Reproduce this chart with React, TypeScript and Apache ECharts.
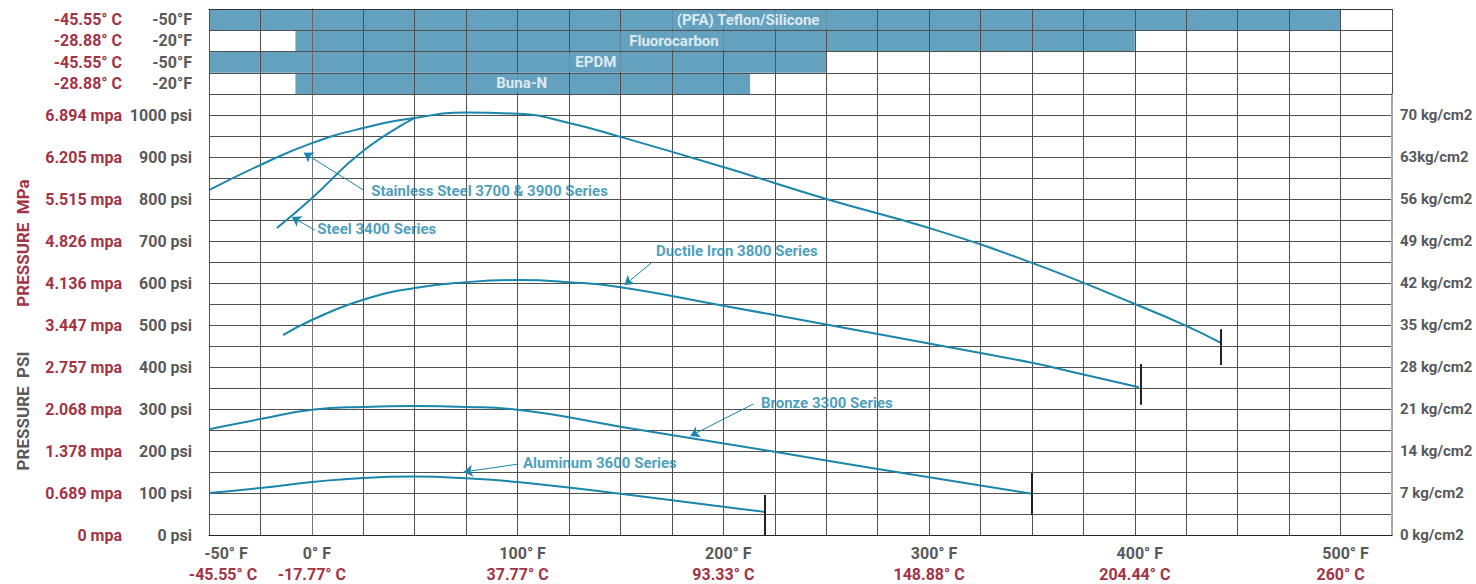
import React, { useEffect, useRef } from 'react';
import * as echarts from 'echarts';

const FONT = "Roboto, 'Liberation Sans Narrow', sans-serif";
const RED = '#a13446';
const GRAY = '#58595b';
const TEAL = '#1a86ab';
const BAND = '#64a1bf';
const GRIDC = '#505050';

// X axis (temperature) tick labels
const xTickF = [-50, 0, 100, 200, 300, 400, 500];
const xTickFLabels = ['-50° F', '0° F', '100° F', '200° F', '300° F', '400° F', '500° F'];
const xTickCLabels = ['-45.55° C', '-17.77° C', '37.77° C', '93.33° C', '148.88° C', '204.44° C', '260° C'];

// Y axis (pressure) tick labels, every 100 psi
const psiLabels = ['0 psi', '100 psi', '200 psi', '300 psi', '400 psi', '500 psi', '600 psi', '700 psi', '800 psi', '900 psi', '1000 psi'];
const mpaLabels = ['0 mpa', '0.689 mpa', '1.378 mpa', '2.068 mpa', '2.757 mpa', '3.447 mpa', '4.136 mpa', '4.826 mpa', '5.515 mpa', '6.205 mpa', '6.894 mpa'];
const kgLabels = ['0 kg/cm2', '7 kg/cm2', '14 kg/cm2', '21 kg/cm2', '28 kg/cm2', '35 kg/cm2', '42 kg/cm2', '49 kg/cm2', '56 kg/cm2', '63kg/cm2', '70 kg/cm2'];

// Seal material temperature bands
const bandNames = ['(PFA) Teflon/Silicone', 'Fluorocarbon', 'EPDM', 'Buna-N'];
const bandStartF = [-50, -8, -50, -8];
const bandEndF = [500, 400, 250, 213];
const bandLabelC = ['-45.55° C', '-28.88° C', '-45.55° C', '-28.88° C'];
const bandLabelF = ['-50°F', '-20°F', '-50°F', '-20°F'];

// Pressure curves [°F, psi]
const stainless = [[-50, 821], [-25, 881], [0, 933], [25, 969], [50, 993], [75, 1006], [100, 1003], [125, 981], [150, 948], [200, 876], [250, 800], [300, 731], [350, 648], [400, 550], [425, 498], [442, 457]];
const steel3400 = [[-17, 731], [0, 802], [25, 915], [50, 993]];
const ductile = [[-14, 476], [0, 512], [25, 560], [50, 588], [75, 602], [100, 607], [125, 602], [150, 590], [200, 546], [250, 501], [300, 456], [350, 410], [375, 382], [402, 352]];
const bronze = [[-50, 252], [-25, 276], [0, 298], [25, 305], [50, 307], [75, 305], [100, 298], [150, 258], [225, 198], [275, 157], [350, 98]];
const aluminum = [[-50, 100], [-25, 112], [0, 126], [25, 136], [50, 139], [75, 135], [100, 126], [150, 98], [200, 67], [220, 55]];

// End-of-range markers [°F, psiLow, psiHigh]
const endMarkers = [[442, 405, 490], [403, 310, 407], [350, 48, 148], [220, 0, 95]];

// Annotations
const annText = ['Stainless Steel 3700 & 3900 Series', 'Steel 3400 Series', 'Ductile Iron 3800 Series', 'Bronze 3300 Series', 'Aluminum 3600 Series'];
const annAt = [[28.6, 819], [2.4, 729], [167, 676], [218, 314], [102.4, 171]];
const annArrow = [[25.2, 821, -3.9, 910], [1.5, 726, -9.7, 757], [165.5, 650, 152, 595], [214.6, 312, 184, 236], [100.5, 169, 73.8, 150]];

// Band label centres (°F)
const bandLabelAt = [212, 176, 138, 102];

const lbl = (color: string, extra: any = {}) => ({
  color, fontFamily: FONT, fontWeight: 'bold', fontSize: 16, ...extra,
});

export default function App() {
  const ref = useRef<HTMLDivElement>(null);
  useEffect(() => {
    if (!ref.current) return;
    const chart = echarts.init(ref.current, null, { renderer: 'svg' });
    const yRich = {
      c: lbl(RED, { width: 80, align: 'right' }),
      f: lbl(GRAY, { width: 70, align: 'right' }),
    };
    const curve = (name: string, data: number[][], mk?: number[]) => ({
      name, type: 'line', xAxisIndex: 1, yAxisIndex: 1, data, symbol: 'none', smooth: 0.5,
      lineStyle: { color: TEAL, width: 2 }, z: 3,
      markLine: mk ? {
        silent: true, symbol: ['none', 'none'], animation: false,
        lineStyle: { color: '#222', width: 2, type: 'solid' }, label: { show: false },
        data: [[{ coord: [mk[0], mk[1]] }, { coord: [mk[0], mk[2]] }]],
      } : undefined,
    });
    const option: any = {
      animation: false,
      grid: [
        { left: 209, right: 84, top: 9, height: 85, containLabel: false, outerBoundsMode: 'none' },
        { left: 209, right: 84, top: 94, height: 441, containLabel: false, outerBoundsMode: 'none' },
      ],
      xAxis: [
        {
          gridIndex: 0, type: 'value', min: -50, max: 525, interval: 25, position: 'top', z: 5,
          axisLine: { show: true, lineStyle: { color: '#333' } }, axisTick: { show: false }, axisLabel: { show: false },
          splitLine: { show: true, lineStyle: { color: GRIDC } },
        },
        {
          gridIndex: 1, type: 'value', min: -50, max: 525, interval: 25,
          axisLine: { show: true, onZero: false, lineStyle: { color: '#222' } }, axisTick: { show: false },
          splitLine: { show: true, lineStyle: { color: GRIDC } },
          axisLabel: {
            margin: 8,
            formatter: (v: number) => {
              const i = xTickF.indexOf(v);
              if (i < 0) return '';
              const k = i === 0 ? '0' : '';
              return `{f${k}|${xTickFLabels[i]}}\n{c${k}|${xTickCLabels[i]}}`;
            },
            rich: {
              f: lbl(GRAY, { lineHeight: 21, padding: [0, 0, 0, 10] }),
              c: lbl(RED, { lineHeight: 21 }),
              f0: lbl(GRAY, { lineHeight: 21, padding: [0, 0, 0, 34] }),
              c0: lbl(RED, { lineHeight: 21, padding: [0, 0, 0, 28] }),
            },
          },
        },
      ],
      yAxis: [
        {
          gridIndex: 0, type: 'category', data: bandNames, inverse: true, z: 5,
          axisLine: { show: true, lineStyle: { color: '#666' } }, axisTick: { show: false },
          splitLine: { show: true, interval: 0, lineStyle: { color: GRIDC } },
          axisLabel: {
            margin: 17, interval: 0,
            formatter: (_v: string, i: number) => `{c|${bandLabelC[i]}}{f|${bandLabelF[i]}}`,
            rich: yRich,
          },
        },
        {
          gridIndex: 1, type: 'value', min: 0, max: 1050, interval: 50,
          axisLine: { show: true, lineStyle: { color: '#777' } }, axisTick: { show: false },
          splitLine: { show: true, lineStyle: { color: GRIDC } },
          axisLabel: {
            margin: 17,
            formatter: (v: number) => (v % 100 === 0 && v <= 1000 ? `{c|${mpaLabels[v / 100]}}{f|${psiLabels[v / 100]}}` : ''),
            rich: yRich,
          },
        },
        {
          gridIndex: 1, type: 'value', position: 'right', min: 0, max: 1050, interval: 50,
          axisLine: { show: true, lineStyle: { color: '#aaa', width: 2 } }, axisTick: { show: false },
          splitLine: { show: false },
          axisLabel: {
            margin: 8, ...lbl(GRAY, { fontSize: 15 }),
            formatter: (v: number) => (v % 100 === 0 && v <= 1000 ? kgLabels[v / 100] : ''),
          },
        },
      ],
      series: [
        {
          type: 'custom', xAxisIndex: 0, yAxisIndex: 0, z: 2,
          data: bandNames.map((_n, i) => [bandStartF[i], bandEndF[i], i]),
          encode: { x: [0, 1], y: 2 },
          renderItem: (_p: any, api: any) => {
            const s = api.coord([api.value(0), api.value(2)]);
            const e = api.coord([api.value(1), api.value(2)]);
            const h = api.size([0, 1])[1];
            return { type: 'rect', shape: { x: s[0], y: s[1] - h / 2, width: e[0] - s[0], height: h }, style: { fill: BAND } };
          },
        },
        {
          type: 'scatter', xAxisIndex: 0, yAxisIndex: 0, z: 10, symbolSize: 1, itemStyle: { color: 'rgba(0,0,0,0)' },
          silent: true,
          data: bandNames.map((_n, i) => [bandLabelAt[i], i]),
          label: {
            show: true, position: 'inside',
            formatter: (p: any) => bandNames[p.dataIndex],
            color: '#fff', fontFamily: FONT, fontWeight: 'bold', fontSize: 15,
            backgroundColor: BAND, padding: [2, 9],
          },
        },
        curve('Stainless Steel 3700 & 3900 Series', stainless, endMarkers[0]),
        curve('Steel 3400 Series', steel3400),
        curve('Ductile Iron 3800 Series', ductile, endMarkers[1]),
        curve('Bronze 3300 Series', bronze, endMarkers[2]),
        curve('Aluminum 3600 Series', aluminum, endMarkers[3]),
        {
          type: 'scatter', xAxisIndex: 1, yAxisIndex: 1, z: 6, symbolSize: 1, itemStyle: { color: 'rgba(0,0,0,0)' },
          silent: true,
          data: annAt.map((a) => [a[0], a[1]]),
          label: {
            show: true, position: 'right', distance: 0,
            formatter: (p: any) => annText[p.dataIndex],
            color: TEAL, fontFamily: FONT, fontWeight: 'bold', fontSize: 15,
          },
          markLine: {
            silent: true, symbol: ['none', 'arrow'], symbolSize: 9,
            lineStyle: { color: TEAL, width: 1, type: 'solid' }, label: { show: false },
            data: annArrow.map((a) => [{ coord: [a[0], a[1]] }, { coord: [a[2], a[3]] }]),
          },
        },
      ],
      graphic: [
        {
          type: 'text', x: 23, y: 243, rotation: Math.PI / 2,
          style: { text: 'PRESSURE  MPa', fill: RED, font: `bold 17px ${FONT}`, align: 'center', verticalAlign: 'middle' },
        },
        {
          type: 'text', x: 23, y: 411, rotation: Math.PI / 2,
          style: { text: 'PRESSURE  PSI', fill: GRAY, font: `bold 17px ${FONT}`, align: 'center', verticalAlign: 'middle' },
        },
      ],
    };
    chart.setOption(option);
    return () => chart.dispose();
  }, []);
  return <div ref={ref} style={{ position: 'fixed', left: 0, top: 0, width: 1476, height: 584, background: '#fff' }} />;
}
